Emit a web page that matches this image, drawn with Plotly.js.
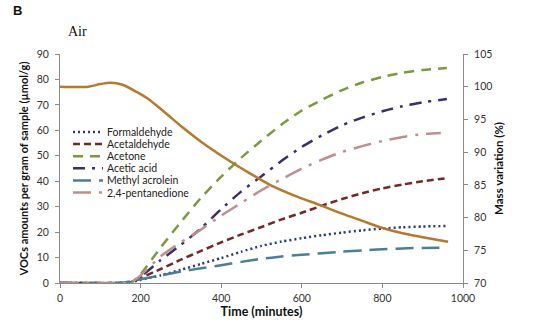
<!DOCTYPE html>
<html>
<head>
<meta charset="utf-8">
<script src="https://cdn.plot.ly/plotly-3.0.1.min.js"></script>
<style>html,body{margin:0;padding:0;background:#fff;}#chart{width:533px;height:326px;}</style>
</head>
<body>
<div id="chart"></div>
<script>
// ---- data ----
var timeVOC = [0, 150, 175, 200, 250, 300, 350, 400, 450, 500, 550, 600, 650, 700, 750, 800, 850, 900, 960];
var formaldehyde = [0, 0, 0.3, 1.2, 3, 5.2, 7.5, 9.8, 12.3, 14.6, 16.3, 17.6, 18.8, 19.8, 20.7, 21.4, 21.9, 22.2, 22.4];
var acetaldehyde = [0, 0, 0.3, 2, 5.5, 9.2, 12.6, 16, 19.1, 22, 25, 27.6, 30.4, 33, 35.3, 37.2, 38.7, 40, 41.2];
var acetone = [0, 0, 0, 3.5, 14, 24, 33.5, 41.8, 49.3, 56, 62.3, 67.8, 72, 75.8, 78.8, 81, 82.6, 83.7, 84.5];
var aceticAcid = [0, 0, 0, 2.5, 9, 15, 21.5, 29, 36, 42, 48, 53.5, 58, 62, 65, 67.5, 69.5, 71, 72.3];
var methylAcrolein = [0, 0, 0.6, 1.5, 3, 4.5, 5.8, 7, 8.3, 9.5, 10.4, 11.1, 11.7, 12.3, 12.8, 13.3, 13.6, 13.8, 13.9];
var timePentane = [0, 150, 175, 200, 250, 300, 350, 400, 450, 500, 550, 600, 650, 700, 750, 800, 850, 900, 945];
var pentanedione = [0, 0, 0, 3, 10.5, 16, 21, 26.5, 31.5, 36.5, 40.8, 45, 48.5, 51.5, 53.8, 55.8, 57.4, 58.5, 59];
var timeMass = [0, 70, 100, 125, 155, 190, 220, 248, 273, 300, 350, 417, 470, 521, 580, 645, 700, 750, 800, 850, 900, 963];
var massVariation = [100.0, 100.0, 100.4, 100.6, 100.3, 99.2, 98.1, 96.7, 95.4, 94.0, 91.6, 88.8, 86.8, 85.0, 83.4, 81.9, 80.6, 79.5, 78.4, 77.6, 77.0, 76.3];

var seriesNames = ['Formaldehyde', 'Acetaldehyde', 'Acetone', 'Acetic acid', 'Methyl acrolein', '2,4-pentanedione'];
var seriesColors = ['#27388C', '#742828', '#7A9A3E', '#3D2D6E', '#4C7E98', '#BE8F8F'];
var seriesDash = ['2px,3px', '7px,4px', '10px,7px', '12px,7px,3px,7px', '18px,8px', '18px,8px,3px,8px'];
var seriesX = [timeVOC, timeVOC, timeVOC, timeVOC, timeVOC, timePentane];
var seriesY = [formaldehyde, acetaldehyde, acetone, aceticAcid, methylAcrolein, pentanedione];
var xTicks = [0, 200, 400, 600, 800, 1000];
var massColor = '#B5792F';

var traces = [];
for (var i = 0; i < seriesNames.length; i++) {
  traces.push({
    x: seriesX[i], y: seriesY[i], name: seriesNames[i], type: 'scatter', mode: 'lines',
    line: {color: seriesColors[i], width: 2.5, dash: seriesDash[i], shape: 'spline', smoothing: 0.6},
    showlegend: false, hoverinfo: 'skip'
  });
}
traces.push({
  x: timeMass, y: massVariation, name: 'Mass variation', type: 'scatter', mode: 'lines', yaxis: 'y2',
  line: {color: massColor, width: 2.5, shape: 'spline', smoothing: 0.8},
  showlegend: false, hoverinfo: 'skip'
});

// manual compact legend (paper coordinates)
var L = 60, R = 463, T = 54, B = 283;
function px2paperX(p) { return (p - L) / (R - L); }
function px2paperY(p) { return (B - p) / (B - T); }
var shapes = [], annotations = [];
for (var j = 0; j < seriesNames.length; j++) {
  var yy = px2paperY(132 + j * 12.1);
  shapes.push({type: 'line', xref: 'paper', yref: 'paper', x0: px2paperX(73), x1: px2paperX(103), y0: yy, y1: yy,
    line: {color: seriesColors[j], width: 2.5, dash: seriesDash[j]}});
  annotations.push({xref: 'paper', yref: 'paper', x: px2paperX(105), y: yy, xanchor: 'left', yanchor: 'middle',
    text: seriesNames[j], showarrow: false, font: {family: 'Lato', size: 10.5, color: '#222'}});
}
annotations.push({xref: 'paper', yref: 'paper', x: px2paperX(11), y: px2paperY(11), xanchor: 'left', yanchor: 'middle',
  text: '<b>B</b>', showarrow: false, font: {family: 'Liberation Sans', size: 13, color: '#111'}});
annotations.push({xref: 'paper', yref: 'paper', x: px2paperX(66), y: px2paperY(31), xanchor: 'left', yanchor: 'middle',
  text: 'Air', showarrow: false, font: {family: 'Liberation Serif', size: 14, color: '#111'}});

var axisCommon = {
  showline: true, linecolor: '#8a8a8a', linewidth: 1, ticks: 'outside', ticklen: 4, tickcolor: '#8a8a8a',
  showgrid: false, zeroline: false, tickfont: {family: 'Lato', size: 10.5, color: '#333'}
};
var layout = {
  width: 533, height: 326,
  margin: {l: L, r: 533 - R, t: T, b: 326 - B},
  paper_bgcolor: '#fff', plot_bgcolor: '#fff',
  showlegend: false,
  xaxis: Object.assign({}, axisCommon, {
    range: [0, 1000], tickvals: xTicks, ticklabelstandoff: 1,
    title: {text: '<b>Time (minutes)</b>', font: {family: 'Lato', size: 12.5, color: '#111'}, standoff: 4}
  }),
  yaxis: Object.assign({}, axisCommon, {
    range: [0, 90], dtick: 10, ticklabelstandoff: 4,
    title: {text: '<b>VOCs amounts per gram of sample (µmol/g)</b>', font: {family: 'Lato', size: 11, color: '#111'}, standoff: 5}
  }),
  yaxis2: Object.assign({}, axisCommon, {
    range: [70, 105], dtick: 5, overlaying: 'y', side: 'right', ticklabelstandoff: 4,
    title: {text: '<b>Mass variation (%)</b>', font: {family: 'Lato', size: 11.5, color: '#111'}, standoff: 3}
  }),
  shapes: shapes,
  annotations: annotations
};
Plotly.newPlot('chart', traces, layout, {displayModeBar: false, staticPlot: true});
</script>
</body>
</html>
